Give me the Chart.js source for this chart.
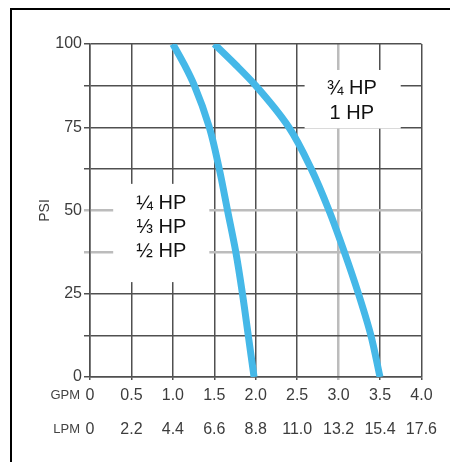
<!DOCTYPE html>
<html lang="en">
<head>
  <meta charset="UTF-8">
  <title>Pump performance</title>
  <style>
    html, body { margin: 0; padding: 0; background: #fff; }
    #wrap { position: relative; width: 450px; height: 462px; }
    #frame { position: absolute; left: 10px; top: 8px; right: 0; bottom: 0;
             border-top: 2px solid #000; border-left: 2px solid #000; }
    canvas { position: absolute; left: 0; top: 0; }
  </style>
</head>
<body>
  <div id="wrap">
    <div id="frame"></div>
    <canvas id="pumpChart" width="450" height="462"></canvas>
  </div>
  <script src="https://cdn.jsdelivr.net/npm/chart.js"></script>
  <script>
    // tick labels
    const gpmTicks = ['0', '0.5', '1.0', '1.5', '2.0', '2.5', '3.0', '3.5', '4.0'];
    const lpmTicks = ['0', '2.2', '4.4', '6.6', '8.8', '11.0', '13.2', '15.4', '17.6'];
    const psiTicks = [0, 25, 50, 75, 100];

    // 1/4 - 1/2 HP curve
    const smallGpm = [1.0, 1.14, 1.26, 1.44, 1.56, 1.66, 1.76, 1.84, 1.91, 1.98];
    const smallPsi = [100, 93.7, 87.5, 75, 62.5, 50, 37.5, 25, 12.5, 0];
    // 3/4 - 1 HP curve
    const bigGpm = [1.5, 1.76, 2.0, 2.4, 2.67, 2.885, 3.07, 3.24, 3.39, 3.5];
    const bigPsi = [100, 93.7, 87.5, 75, 62.5, 50, 37.5, 25, 12.5, 0];

    const smallLabel = ['¼ HP', '⅓ HP', '½ HP'];
    const bigLabel = ['¾ HP', '1 HP'];

    const DARK = '#505050';
    const LIGHT = '#bcbcbc';
    const BLUE = '#45b8e8';
    const TICK_FONT = { family: 'Arial, "Liberation Sans"', size: 16 };

    const toPoints = (xs, ys) => xs.map((v, i) => ({ x: v, y: ys[i] }));

    // white boxes with the HP names, placed in data units
    const hpLabels = {
      id: 'hpLabels',
      beforeDatasetsDraw(chart) {
        const { ctx, scales: { x, y } } = chart;
        const boxes = [
          { lines: smallLabel, x0: 0.28, x1: 1.44, y0: 58, y1: 28.5, cx: 0.86, cy: [52, 44.9, 37.6] },
          { lines: bigLabel, x0: 2.59, x1: 3.75, y0: 92.2, y1: 74.6, cx: 3.16, cy: [86.5, 79] }
        ];
        ctx.save();
        boxes.forEach(b => {
          const left = x.getPixelForValue(b.x0), right = x.getPixelForValue(b.x1);
          const top = y.getPixelForValue(b.y0), bottom = y.getPixelForValue(b.y1);
          ctx.fillStyle = '#fff';
          ctx.fillRect(left, top, right - left, bottom - top);
          ctx.fillStyle = '#111';
          ctx.font = '20px Arial, "Liberation Sans"';
          ctx.textAlign = 'center';
          ctx.textBaseline = 'middle';
          b.lines.forEach((t, i) => {
            ctx.fillText(t, x.getPixelForValue(b.cx), y.getPixelForValue(b.cy[i]));
          });
        });
        ctx.restore();
      }
    };

    // "GPM" / "LPM" in front of each row of x tick labels
    const unitNames = {
      id: 'unitNames',
      afterDraw(chart) {
        const ctx = chart.ctx;
        ctx.save();
        ctx.font = '13px Arial, "Liberation Sans"';
        ctx.fillStyle = '#444';
        ctx.textAlign = 'right';
        ctx.textBaseline = 'middle';
        [['x', 'GPM'], ['x2', 'LPM']].forEach(([id, name]) => {
          const s = chart.scales[id];
          const tl = s.options.grid.drawTicks ? s.options.grid.tickLength : 0;
          const yc = s.top + tl + s.options.ticks.padding + TICK_FONT.size * 0.6;
          ctx.fillText(name, chart.chartArea.left - 10, yc);
        });
        ctx.restore();
      }
    };

    new Chart(document.getElementById('pumpChart'), {
      type: 'line',
      data: {
        datasets: [
          {
            label: '1/4 - 1/2 HP',
            data: toPoints(smallGpm, smallPsi),
            indexAxis: 'y',
            borderColor: BLUE,
            borderWidth: 7,
            pointRadius: 0,
            cubicInterpolationMode: 'monotone',
            clip: 0
          },
          {
            label: '3/4 - 1 HP',
            data: toPoints(bigGpm, bigPsi),
            indexAxis: 'y',
            borderColor: BLUE,
            borderWidth: 7,
            pointRadius: 0,
            cubicInterpolationMode: 'monotone',
            clip: 0
          }
        ]
      },
      options: {
        indexAxis: 'y',
        responsive: false,
        animation: false,
        layout: { padding: { left: 0, top: 44, right: 27, bottom: 21 } },
        plugins: {
          legend: { display: false },
          tooltip: { enabled: false }
        },
        scales: {
          x: {
            type: 'linear',
            position: 'bottom',
            weight: 0,
            min: 0,
            max: 4,
            ticks: {
              stepSize: 0.5,
              autoSkip: false,
              maxRotation: 0,
              padding: 6,
              color: '#3c3c3c',
              font: TICK_FONT,
              callback: (v, i) => gpmTicks[i]
            },
            grid: {
              color: c => (c.tick && c.tick.value === 3 ? LIGHT : DARK),
              lineWidth: c => (c.tick && c.tick.value === 3 ? 2.5 : 1.5),
              tickLength: 3
            },
            border: { color: DARK, width: 1.5 },
            afterFit: s => { s.height = 30; }
          },
          x2: {
            type: 'linear',
            position: 'bottom',
            weight: 1,
            min: 0,
            max: 4,
            ticks: {
              stepSize: 0.5,
              autoSkip: false,
              maxRotation: 0,
              padding: 13,
              color: '#3c3c3c',
              font: TICK_FONT,
              callback: (v, i) => lpmTicks[i]
            },
            grid: { display: false, drawTicks: false },
            border: { display: false },
            afterFit: s => { s.height = 34; }
          },
          y: {
            type: 'linear',
            position: 'left',
            min: 0,
            max: 100,
            ticks: {
              stepSize: 12.5,
              padding: 2,
              color: '#3c3c3c',
              font: TICK_FONT,
              callback: v => (psiTicks.includes(v) ? String(v) : '')
            },
            grid: {
              color: c => (c.tick && (c.tick.value === 50 || c.tick.value === 37.5) ? LIGHT : DARK),
              lineWidth: c => (c.tick && (c.tick.value === 50 || c.tick.value === 37.5) ? 2.5 : 1.5),
              tickLength: 6
            },
            border: { color: DARK, width: 1.5 },
            title: {
              display: true,
              text: 'PSI',
              color: '#3c3c3c',
              font: { family: 'Arial, "Liberation Sans"', size: 14 },
              padding: { top: 37, bottom: 0 }
            },
            afterFit: s => { s.width = 90; }
          }
        }
      },
      plugins: [hpLabels, unitNames]
    });
  </script>
</body>
</html>
